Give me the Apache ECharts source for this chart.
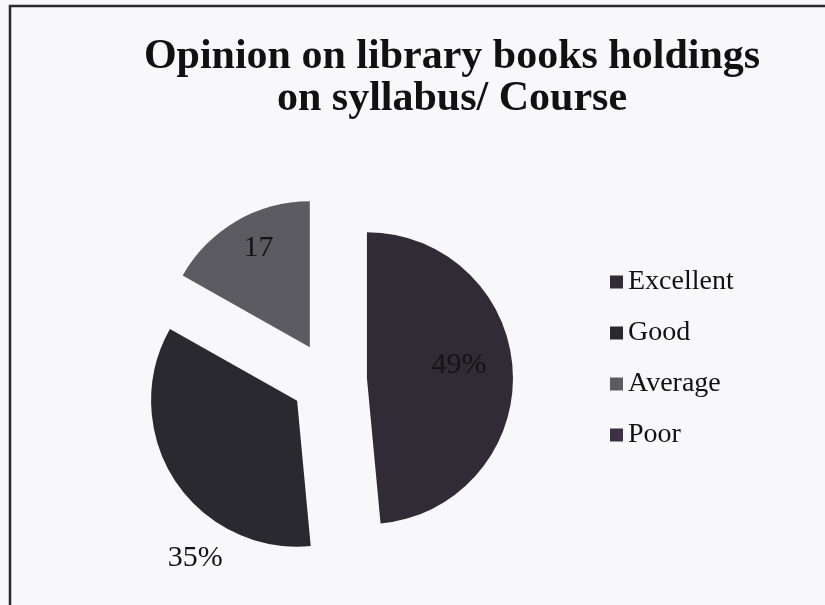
<!DOCTYPE html>
<html>
<head>
<meta charset="utf-8">
<script src="https://cdn.jsdelivr.net/npm/echarts@6/dist/echarts.min.js"></script>
<style>
html,body{margin:0;padding:0;background:#f8f7fa;}
#chart{width:825px;height:605px;}
</style>
</head>
<body>
<div id="chart"></div>
<script>
const categories = ['Excellent', 'Good', 'Average', 'Poor'];
const values = [49, 35, 17, 0];
const labelTexts = ['49%', '35%', '17', ''];

const colors = ['#302b34', '#2a292f', '#5c5b61', '#3b3044'];
// horizontal nudge via padding, vertical nudge via a spacer line
const labelPads = [[0, 0, 0, 32], [0, 76, 0, 0], [0, 26, 0, 0], [0, 0, 0, 0]];
const labelShiftY = [-10, 116, -33, 0];

function labelFormatter(i) {
  const t = '{t|' + labelTexts[i] + '}';
  const dy = labelShiftY[i];
  if (dy > 0) return '{s' + i + '|}\n' + t;
  if (dy < 0) return t + '\n{s' + i + '|}';
  return t;
}

const rich = { t: { fontFamily: 'Liberation Serif', fontSize: 30, lineHeight: 30, color: '#141414' } };
labelShiftY.forEach((dy, i) => {
  const h = Math.max(1, Math.abs(dy) * 2);
  rich['s' + i] = { height: h, lineHeight: h };
});

const chart = echarts.init(document.getElementById('chart'));
const data = categories.map((c, i) => ({
  name: c,
  value: values[i],
  selected: true,
  itemStyle: { color: colors[i] },
  label: {
    show: labelTexts[i] !== '',
    formatter: labelFormatter(i),
    position: 'inside',
    padding: labelPads[i],
    rich: rich
  }
}));

chart.setOption({
  backgroundColor: '#f8f7fa',
  animation: false,
  title: {
    text: 'Opinion on library books holdings\non syllabus/ Course',
    left: 447,
    top: 31,
    textAlign: 'center',
    textStyle: {
      fontFamily: 'Liberation Serif',
      fontWeight: 'bold',
      fontSize: 42,
      lineHeight: 42,
      color: '#111'
    }
  },
  legend: {
    orient: 'vertical',
    left: 605,
    top: 263,
    itemWidth: 13,
    itemHeight: 13,
    itemGap: 23,
    icon: 'rect',
    selectedMode: false,
    data: categories,
    textStyle: {
      fontFamily: 'Liberation Serif',
      fontSize: 28,
      lineHeight: 28,
      color: '#111'
    }
  },
  graphic: [{
    type: 'rect',
    shape: { x: 10, y: 6, width: 830, height: 620 },
    style: { fill: 'none', stroke: '#2a2a2a', lineWidth: 2.5 },
    silent: true
  }],
  series: [{
    type: 'pie',
    center: [329, 380],
    radius: [0, 146],
    startAngle: 90,
    clockwise: true,
    selectedMode: 'multiple',
    selectedOffset: 38,
    emphasis: { disabled: true },
    labelLine: { show: false },
    label: {
      fontFamily: 'Liberation Serif',
      fontSize: 30,
      color: '#141414'
    },
    data: data
  }]
});
</script>
</body>
</html>
